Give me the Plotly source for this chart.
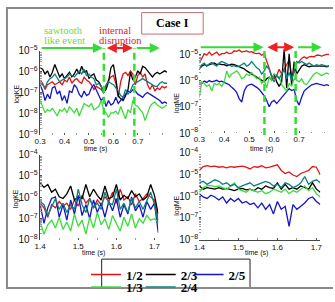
import plotly.graph_objects as go

W, H = 335, 302

# ---------------- data (log10 of energy) ----------------
t_early = [0.30, 0.31, 0.32, 0.33, 0.34, 0.35, 0.36, 0.37, 0.38, 0.39,
           0.40, 0.41, 0.42, 0.43, 0.44, 0.45, 0.46, 0.47, 0.48, 0.49,
           0.50, 0.51, 0.52, 0.53, 0.54, 0.55, 0.56, 0.57, 0.58, 0.59,
           0.60, 0.61, 0.62, 0.63, 0.64, 0.65, 0.66, 0.67, 0.68, 0.69,
           0.70, 0.71, 0.72, 0.73, 0.74, 0.75, 0.76, 0.77, 0.78, 0.79,
           0.80, 0.81, 0.82]
t_late = [1.40, 1.41, 1.42, 1.43, 1.44, 1.45, 1.46, 1.47, 1.48, 1.49,
          1.50, 1.51, 1.52, 1.53, 1.54, 1.55, 1.56, 1.57, 1.58, 1.59,
          1.60, 1.61, 1.62, 1.63, 1.64, 1.65, 1.66, 1.67, 1.68, 1.69,
          1.70, 1.71]
tick_early = [0.3, 0.4, 0.5, 0.6, 0.7]
tick_late = [1.4, 1.5, 1.6, 1.7]

# kinetic energy, early window
ke_early_12 = [-6.39, -6.54, -6.84, -6.61, -6.54, -6.47, -6.61, -6.54, -6.47, -6.61,
               -6.39, -6.47, -6.24, -6.54, -6.39, -6.32, -6.47, -6.54, -6.24, -6.39,
               -6.47, -6.61, -6.84, -6.69, -6.76, -6.84, -6.98, -6.69, -6.39, -6.24,
               -6.17, -6.54, -7.21, -6.47, -6.10, -6.02, -6.17, -5.95, -6.10, -6.61,
               -6.17, -6.02, -6.24, -6.10, -6.61, -6.84, -6.61, -6.91, -6.76, -6.84,
               -6.69, -6.76, -6.69]
ke_early_23 = [-5.80, -5.87, -6.10, -5.95, -6.24, -6.02, -5.65, -5.95, -6.24, -6.10,
               -6.32, -6.17, -6.02, -6.24, -6.10, -5.87, -6.10, -5.73, -6.02, -5.95,
               -6.32, -6.17, -6.10, -6.39, -6.47, -6.69, -6.98, -6.84, -6.47, -5.80,
               -5.65, -6.32, -7.13, -7.28, -7.36, -7.13, -6.84, -6.02, -6.39, -6.24,
               -5.95, -6.10, -5.73, -5.80, -5.95, -6.10, -6.24, -6.10, -6.02, -6.10,
               -6.02, -5.95, -6.02]
ke_early_25 = [-6.61, -6.91, -7.36, -7.06, -7.28, -6.76, -6.69, -7.06, -6.91, -7.36,
               -7.13, -7.50, -6.91, -6.98, -6.61, -6.76, -7.06, -7.21, -6.91, -7.13,
               -7.06, -6.76, -6.61, -6.84, -7.06, -7.36, -7.21, -7.65, -7.36, -7.58,
               -7.50, -7.21, -7.50, -7.36, -7.21, -7.06, -6.91, -6.98, -6.84, -6.91,
               -7.06, -7.13, -7.21, -7.06, -6.98, -7.06, -7.13, -7.21, -7.28, -7.36,
               -7.50, -7.43, -7.50]
ke_early_13 = [-7.36, -7.65, -7.95, -7.80, -7.87, -7.73, -7.95, -8.10, -7.80, -7.87,
               -7.73, -7.95, -7.65, -7.80, -7.95, -7.73, -8.10, -7.80, -7.50, -7.58,
               -7.65, -7.50, -7.80, -7.73, -7.65, -7.36, -7.80, -7.95, -8.17, -7.95,
               -7.95, -7.87, -8.02, -7.65, -7.95, -8.24, -7.80, -7.95, -7.36, -7.58,
               -7.65, -7.80, -7.95, -8.32, -7.95, -7.65, -7.50, -7.43, -7.58, -7.65,
               -7.73, -7.65, -7.58]
ke_early_24 = [-6.54, -6.61, -6.76, -6.47, -6.32, -6.24, -6.10, -6.32, -6.47, -6.39,
               -6.32, -6.24, -6.10, -6.17, -6.24, -6.10, -5.95, -6.10, -5.87, -6.17,
               -6.10, -6.24, -6.32, -6.61, -6.54, -6.69, -6.98, -6.61, -6.47, -6.54,
               -6.61, -6.76, -6.91, -7.13, -7.21, -6.84, -7.06, -6.91, -6.61, -6.54,
               -6.47, -6.39, -6.32, -6.39, -6.47, -6.54, -6.61, -6.69, -6.69, -6.54,
               -6.47, -6.54, -6.54]

# magnetic energy, early window
me_early_12 = [-5.32, -5.14, -4.96, -5.02, -4.90, -5.02, -4.96, -4.90, -5.02, -4.96,
               -4.96, -4.90, -4.96, -4.94, -4.85, -4.87, -4.82, -4.90, -4.87, -4.85,
               -4.90, -4.88, -4.94, -4.96, -4.94, -5.02, -4.96, -5.26, -5.56, -5.80,
               -5.92, -5.80, -5.56, -5.74, -5.56, -5.38, -5.20, -5.80, -5.68, -5.32,
               -5.26, -5.14, -5.08, -5.14, -5.08, -5.06, -5.08, -5.02, -5.02, -5.05,
               -5.02, -4.99, -4.99]
me_early_23 = [-5.56, -5.44, -5.38, -5.42, -5.38, -5.36, -5.32, -5.38, -5.35, -5.38,
               -5.38, -5.42, -5.38, -5.36, -5.38, -5.42, -5.46, -5.50, -5.54, -5.62,
               -5.68, -5.74, -5.82, -5.86, -5.92, -5.98, -6.04, -5.92, -5.86, -5.98,
               -5.74, -6.04, -6.21, -6.04, -4.79, -6.27, -4.96, -6.15, -5.26, -5.74,
               -5.56, -5.44, -5.38, -5.42, -5.46, -5.44, -5.44, -5.42, -5.44, -5.42,
               -5.44, -5.46, -5.44]
me_early_25 = [-6.04, -6.10, -6.01, -6.06, -5.99, -6.04, -6.01, -5.98, -6.04, -6.01,
               -6.06, -6.10, -6.15, -6.25, -6.33, -6.45, -6.69, -6.81, -6.39, -6.21,
               -6.15, -6.13, -6.18, -6.25, -6.33, -6.45, -6.57, -6.75, -6.99, -6.81,
               -6.75, -6.87, -6.75, -6.63, -6.51, -6.39, -6.30, -6.37, -6.33, -6.75,
               -6.93, -6.63, -6.39, -6.30, -6.21, -6.15, -6.13, -6.10, -6.13, -6.15,
               -6.18, -6.15, -6.18]
me_early_13 = [-6.63, -6.04, -6.10, -6.21, -6.15, -6.39, -6.10, -6.15, -6.10, -6.21,
               -6.04, -5.62, -5.86, -5.74, -5.68, -5.62, -5.74, -5.92, -5.86, -5.74,
               -5.80, -5.68, -5.80, -5.92, -5.86, -6.10, -5.98, -6.27, -5.86, -5.98,
               -5.74, -5.80, -5.86, -6.15, -6.27, -6.39, -6.10, -6.21, -5.92, -5.98,
               -6.04, -5.92, -6.10, -6.15, -5.98, -5.86, -5.74, -5.68, -5.74, -5.80,
               -5.74, -5.70, -5.74]
me_early_24 = [-5.56, -5.38, -5.32, -5.44, -5.35, -5.30, -5.38, -5.44, -5.32, -5.26,
               -5.30, -5.35, -5.38, -5.44, -5.42, -5.46, -5.44, -5.38, -5.32, -5.44,
               -5.38, -5.26, -5.38, -5.50, -5.56, -5.74, -5.62, -5.44, -5.56, -5.86,
               -6.04, -5.80, -5.92, -5.74, -5.56, -5.92, -5.68, -5.98, -5.56, -5.26,
               -5.32, -5.26, -5.32, -5.38, -5.32, -5.38, -5.44, -5.38, -5.42, -5.38,
               -5.42, -5.44, -5.44]

# kinetic energy, late window
ke_late_12 = [-6.29, -6.51, -6.95, -6.36, -6.51, -6.21, -6.43, -6.29, -6.58, -6.14,
              -6.43, -5.92, -6.29, -6.07, -6.51, -6.14, -6.36, -5.99, -6.21, -5.77,
              -6.29, -5.63, -6.14, -5.99, -6.36, -5.85, -6.21, -6.07, -5.85, -5.99,
              -6.14, -7.09]
ke_late_23 = [-5.33, -5.55, -5.41, -5.77, -5.63, -5.99, -6.07, -5.85, -5.48, -6.14,
              -5.99, -6.07, -5.41, -5.99, -5.63, -5.92, -6.14, -5.48, -6.07, -5.99,
              -5.41, -6.14, -5.92, -6.07, -5.70, -5.99, -5.85, -6.14, -5.99, -5.41,
              -5.92, -6.80]
ke_late_25 = [-6.36, -7.24, -6.51, -6.07, -5.99, -6.95, -6.36, -7.09, -6.14, -6.80,
              -5.92, -6.87, -6.36, -7.02, -6.14, -6.73, -6.29, -6.95, -6.21, -6.65,
              -6.07, -6.95, -6.36, -6.80, -5.99, -6.65, -6.36, -6.95, -6.21, -6.58,
              -6.29, -7.68]
ke_late_13 = [-7.17, -7.75, -7.31, -7.09, -7.46, -6.95, -7.53, -7.17, -7.60, -6.80,
              -7.38, -7.09, -7.75, -6.95, -7.46, -6.73, -7.31, -7.02, -7.53, -6.87,
              -7.24, -7.60, -6.95, -7.38, -6.80, -7.46, -7.02, -7.24, -6.87, -7.09,
              -7.02, -7.17]
ke_late_24 = [-6.21, -6.36, -6.87, -6.43, -6.07, -6.58, -6.29, -6.73, -6.36, -6.58,
              -5.63, -6.36, -6.73, -6.07, -6.51, -6.29, -6.58, -5.77, -6.29, -6.36,
              -5.63, -6.58, -6.29, -6.73, -6.07, -6.51, -6.21, -6.58, -6.14, -5.77,
              -6.36, -7.24]

# magnetic energy, late window
me_late_12 = [-4.82, -4.64, -4.60, -4.64, -4.62, -4.67, -4.64, -4.70, -4.64, -4.67,
              -4.64, -4.62, -4.67, -4.75, -4.64, -4.67, -4.60, -4.70, -4.67, -4.60,
              -4.56, -4.82, -4.96, -4.89, -5.03, -5.10, -4.96, -4.89, -4.82, -4.64,
              -4.67, -5.03]
me_late_23 = [-5.53, -5.68, -5.61, -5.65, -5.68, -5.61, -5.68, -5.65, -5.71, -5.75,
              -5.68, -5.65, -5.71, -5.68, -5.75, -5.61, -5.68, -5.53, -5.61, -5.65,
              -5.39, -5.68, -5.46, -5.68, -5.61, -5.68, -5.53, -5.61, -5.68, -5.39,
              -5.68, -5.82]
me_late_25 = [-5.89, -6.04, -6.11, -5.96, -6.04, -6.18, -6.04, -6.32, -6.11, -6.25,
              -6.11, -6.32, -6.25, -6.39, -6.32, -6.54, -6.32, -6.61, -6.39, -6.82,
              -6.25, -6.61, -6.47, -7.40, -6.39, -6.61, -6.47, -6.32, -6.11, -6.04,
              -6.25, -6.39]
me_late_13 = [-5.82, -5.61, -5.53, -5.51, -5.56, -5.53, -5.61, -5.68, -5.53, -5.39,
              -5.68, -5.75, -5.82, -5.68, -5.75, -5.82, -5.75, -5.89, -5.82, -5.68,
              -5.75, -5.82, -5.68, -5.89, -5.75, -5.82, -5.68, -5.53, -5.75, -5.61,
              -5.89, -6.04]
me_late_24 = [-5.39, -5.32, -5.46, -5.36, -5.25, -5.32, -5.46, -5.39, -5.53, -5.46,
              -5.61, -5.53, -5.46, -5.39, -5.53, -5.46, -5.39, -5.32, -5.39, -5.53,
              -5.46, -5.61, -5.39, -5.46, -5.61, -5.53, -5.39, -5.10, -5.46, -5.32,
              -5.25, -5.39]

mode_names = ["1/2", "2/3", "2/5", "1/3", "2/4"]
event_times = [0.561, 0.686]

# ---------------- styling ----------------
COLORS = {"1/2": "#e41414", "2/3": "#000000", "2/5": "#1414c8",
          "1/3": "#3cdc3c", "2/4": "#0b8080"}
# one single-entry legend per mode, placed in a 3 + 2 grid
LEGEND_OF = {"1/2": "legend", "2/3": "legend2", "2/5": "legend3",
             "1/3": "legend4", "2/4": "legend5"}
LEGEND_POS = {"legend": (82, 286.5), "legend2": (138, 286.5),
              "legend3": (187, 286.5), "legend4": (82, 300),
              "legend5": (138, 300)}
GREEN = "#33dd33"
RED = "#ee2222"


def px(x):
    return x / W


def py(y):
    return 1 - y / H


panels = [
    ("x", "y", t_early, {"1/2": ke_early_12, "2/3": ke_early_23, "2/5": ke_early_25,
                         "1/3": ke_early_13, "2/4": ke_early_24}),
    ("x2", "y2", t_early, {"1/2": me_early_12, "2/3": me_early_23, "2/5": me_early_25,
                           "1/3": me_early_13, "2/4": me_early_24}),
    ("x3", "y3", t_late, {"1/2": ke_late_12, "2/3": ke_late_23, "2/5": ke_late_25,
                          "1/3": ke_late_13, "2/4": ke_late_24}),
    ("x4", "y4", t_late, {"1/2": me_late_12, "2/3": me_late_23, "2/5": me_late_25,
                          "1/3": me_late_13, "2/4": me_late_24}),
]

fig = go.Figure()
for pi, (xa, ya, tt, dd) in enumerate(panels):
    for name in mode_names:
        fig.add_trace(go.Scatter(
            x=tt, y=[10 ** v for v in dd[name]], mode="lines", name=name,
            line=dict(color=COLORS[name], width=1.3),
            xaxis=xa, yaxis=ya, showlegend=(pi == 0),
            legend=LEGEND_OF[name], hoverinfo="skip"))

TICKFONT = dict(family="Liberation Sans", size=8, color="#111111")


def xaxis(dom, rng, ticks, anchor, showline):
    return dict(domain=dom, range=rng, anchor=anchor, tickmode="array",
                tickvals=ticks, ticktext=[f"{v:.1f}" for v in ticks],
                ticks="inside", ticklen=2, tickcolor="#555", tickwidth=1,
                showline=showline, linecolor="#444", linewidth=1,
                showgrid=False, zeroline=False, tickfont=TICKFONT,
                minor=dict(ticks="inside", ticklen=1.5, tick0=ticks[0],
                           dtick=0.05, tickcolor="#999", showgrid=False),
                fixedrange=True)


def yaxis(dom, rng, anchor, showline):
    return dict(domain=dom, range=rng, anchor=anchor, type="log", dtick=1,
                exponentformat="power", showexponent="all",
                ticks="inside", ticklen=2, tickcolor="#555", tickwidth=1,
                showline=showline, linecolor="#444", linewidth=1,
                showgrid=False, zeroline=False, tickfont=TICKFONT,
                minor=dict(ticks="inside", ticklen=1.5, tickcolor="#999",
                           showgrid=False),
                fixedrange=True)


LEGFONT = dict(family="Liberation Serif", size=13, color="black", weight="bold")
legends = {}
for key, (lx, ly) in LEGEND_POS.items():
    legends[key] = dict(x=px(lx), y=py(ly), xanchor="left", yanchor="middle",
                        orientation="h", bgcolor="rgba(0,0,0,0)",
                        borderwidth=0, itemwidth=30, font=LEGFONT)

fig.update_layout(
    width=W, height=H, margin=dict(l=0, r=0, t=0, b=0),
    paper_bgcolor="white", plot_bgcolor="white",
    xaxis=xaxis([px(35), px(165)], [0.3, 0.82], tick_early, "y", False),
    yaxis=yaxis([py(137), py(47)], [-9, -5], "x", True),
    xaxis2=xaxis([px(198), px(331)], [0.3, 0.82], tick_early, "y2", False),
    yaxis2=yaxis([py(135), py(43)], [-8, -4.71], "x2", False),
    xaxis3=xaxis([px(35), px(156)], [1.4, 1.71], tick_late, "y3", False),
    yaxis3=yaxis([py(249), py(158)], [-8, -4], "x3", True),
    xaxis4=xaxis([px(198), px(322)], [1.4, 1.71], tick_late, "y4", True),
    yaxis4=yaxis([py(249), py(156)], [-8, -4], "x4", False),
    **legends,
)

shapes = []
for xa, ytop, ybot in (("x", 44, 139), ("x2", 43, 137)):
    for et in event_times:
        shapes.append(dict(type="line", xref=xa, yref="paper", x0=et, x1=et,
                           y0=py(ybot), y1=py(ytop),
                           line=dict(color=GREEN, width=2.5, dash="7px,4px")))
shapes.append(dict(type="rect", xref="paper", yref="paper",
                   x0=px(139), x1=px(202), y0=py(29), y1=py(6),
                   line=dict(color="#c07070", width=1)))
shapes.append(dict(type="rect", xref="paper", yref="paper",
                   x0=px(98), x1=px(250), y0=py(300.5), y1=py(270),
                   line=dict(color="#222", width=1)))
for (x0, y0, x1, y1) in ((0, 1, 335, 1), (1, 0, 1, 302), (0, 301, 335, 301)):
    shapes.append(dict(type="line", xref="paper", yref="paper",
                       x0=px(x0), x1=px(x1), y0=py(y0), y1=py(y1),
                       line=dict(color="#8a8a8a", width=2)))
fig.update_layout(shapes=shapes)

ann = []
for xa, yarr in (("x", 44), ("x2", 43)):
    segs = [(0.30, event_times[0] - 0.004, GREEN, "end"),
            (event_times[0] + 0.006, event_times[1] - 0.006, RED, "end+start"),
            (event_times[1] + 0.004, 0.79, GREEN, "end")]
    for a, b, col, side in segs:
        ann.append(dict(x=b, y=py(yarr), xref=xa, yref="paper",
                        ax=a, ay=0, axref=xa, ayref="pixel", text="",
                        showarrow=True, arrowhead=2, arrowsize=1,
                        arrowwidth=2, arrowcolor=col, arrowside=side,
                        standoff=0, startstandoff=0))

SERIF = "Liberation Serif"
for (x, y, txt, col) in ((38, 25.5, "sawtooth", "#66dd44"),
                         (38, 36, "like event", "#66dd44"),
                         (94, 25.5, "internal", "#dd2222"),
                         (94, 36, "disruption", "#dd2222")):
    ann.append(dict(x=px(x), y=py(y), text=txt, xanchor="left",
                    yanchor="middle", borderpad=0,
                    font=dict(family=SERIF, size=10.5, color=col)))
ann.append(dict(x=px(170.5), y=py(17.5), text="<b>Case I</b>", xanchor="center",
                yanchor="middle", font=dict(family=SERIF, size=12, color="black")))
LAB = dict(family="Liberation Sans", size=7, color="#111")
for (x, y, txt, rot) in ((92, 152.5, "time (s)", 0), (262, 152.5, "time (s)", 0),
                         (90, 263, "time (s)", 0), (257, 263, "time (s)", 0),
                         (11, 93, "logKE", -90), (11, 205, "logKE", -90),
                         (175, 103, "logME", -90), (175, 213, "logME", -90)):
    ann.append(dict(x=px(x), y=py(y), text=txt, textangle=rot, borderpad=0,
                    xanchor="center", yanchor="middle", font=LAB))
for a in ann:
    a.setdefault("xref", "paper")
    a.setdefault("yref", "paper")
    a.setdefault("showarrow", False)
fig.update_layout(annotations=ann)

fig.write_html("out.html", config={"displayModeBar": False},
               post_script="document.body.style.margin='0';"
                           "document.body.style.padding='0';")
